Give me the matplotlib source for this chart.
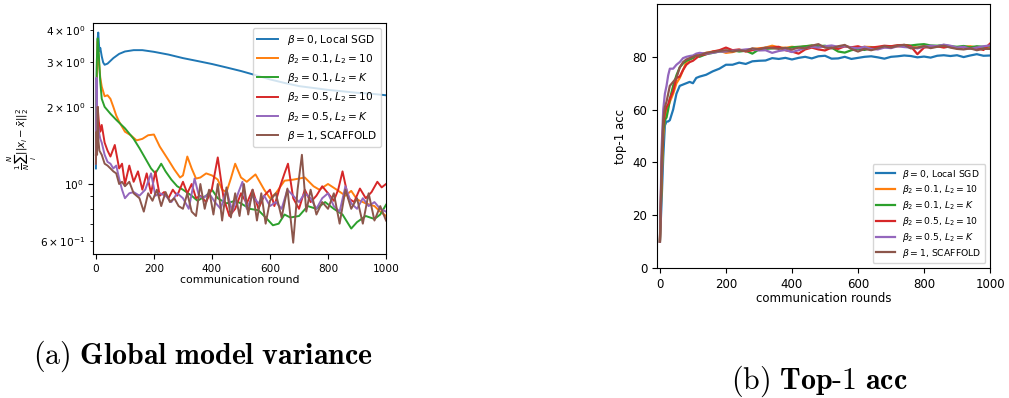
import matplotlib
matplotlib.use("Agg")
import matplotlib.pyplot as plt

labels = [
    r"$\beta = 0$, Local SGD",
    r"$\beta_2 = 0.1$, $L_2 = 10$",
    r"$\beta_2 = 0.1$, $L_2 = K$",
    r"$\beta_2 = 0.5$, $L_2 = 10$",
    r"$\beta_2 = 0.5$, $L_2 = K$",
    r"$\beta = 1$, SCAFFOLD",
]

# ---- (a) global model variance, one x list per run ----
var_x_local = [0, 3, 6, 8, 12, 15, 20, 25, 30, 40, 60, 80, 100, 130, 160, 200,
               250, 300, 350, 400, 450, 500, 550, 600, 650, 700, 750, 800, 850,
               900, 950, 1000]
var_local = [1.15, 2.8, 3.7, 3.9, 3.3, 3.4, 3.15, 2.98, 2.92, 2.95, 3.1, 3.22,
             3.29, 3.33, 3.33, 3.28, 3.2, 3.1, 3.02, 2.94, 2.85, 2.76, 2.66,
             2.56, 2.48, 2.41, 2.37, 2.33, 2.3, 2.27, 2.25, 2.22]

var_x_b01_10 = [0, 3, 6, 10, 15, 20, 30, 40, 50, 60,
                70, 80, 100, 120, 140, 160, 180, 200, 220, 250,
                270, 290, 300, 315, 330, 345, 360, 380, 400, 420,
                435, 450, 465, 480, 500, 520, 550, 580, 600, 620,
                650, 680, 700, 720, 750, 770, 800, 830, 860, 880,
                900, 930, 960, 980, 1000]
var_b01_10 = [1.3, 2.6, 3.6, 3.0, 2.6, 2.4, 2.2, 2.22, 2.15, 2.0,
              1.85, 1.75, 1.6, 1.55, 1.48, 1.5, 1.55, 1.56, 1.4, 1.24,
              1.14, 1.06, 1.08, 1.28, 1.15, 1.05, 1.06, 1.1, 1.08, 1.04,
              0.95, 0.93, 1.05, 1.2, 1.06, 1.02, 1.09, 0.95, 0.88, 0.92,
              1.03, 1.04, 1.05, 1.06, 0.98, 0.95, 1.0, 0.95, 0.9, 0.94,
              0.87, 0.84, 0.82, 0.78, 0.75]

var_x_b01_K = [0, 3, 6, 10, 15, 20, 30, 50, 70, 100,
               130, 150, 170, 190, 205, 225, 240, 260, 280, 300,
               330, 350, 380, 400, 420, 450, 480, 500, 530, 560,
               590, 610, 630, 650, 670, 700, 730, 760, 790, 820,
               850, 880, 900, 930, 960, 980, 1000]
var_b01_K = [1.3, 3.0, 3.7, 3.2, 2.5, 2.15, 2.0, 1.88, 1.78, 1.65,
             1.5, 1.38, 1.26, 1.15, 1.1, 1.2, 1.12, 1.04, 0.98, 0.95,
             0.9, 0.86, 0.9, 0.95, 0.88, 0.84, 0.86, 0.84, 0.8, 0.79,
             0.73, 0.69, 0.7, 0.76, 0.74, 0.75, 0.82, 0.8, 0.85, 0.8,
             0.76, 0.67, 0.71, 0.75, 0.73, 0.76, 0.83]

var_x_b05_10 = [0, 3, 6, 10, 15, 20, 30, 40, 50, 65,
                80, 90, 100, 115, 130, 145, 160, 175, 190, 205,
                220, 235, 250, 265, 280, 300, 315, 330, 345, 360,
                380, 400, 420, 440, 460, 480, 500, 520, 540, 560,
                580, 600, 615, 635, 650, 662, 680, 700, 720, 740,
                760, 780, 800, 820, 835, 850, 870, 890, 910, 930,
                950, 970, 985, 1000]
var_b05_10 = [1.3, 1.8, 2.0, 1.75, 1.6, 1.7, 1.45, 1.35, 1.28, 1.42,
              1.15, 1.2, 1.0, 1.18, 1.02, 1.12, 0.95, 1.1, 0.92, 1.12,
              0.9, 0.93, 0.88, 0.95, 0.9, 1.02, 0.92, 1.0, 0.88, 0.9,
              0.85, 0.96, 1.27, 0.88, 0.75, 0.8, 0.92, 0.84, 0.95, 0.8,
              0.9, 0.95, 0.82, 0.98, 1.1, 1.2, 0.88, 0.8, 0.95, 0.85,
              0.9, 0.98, 0.92, 0.86, 0.95, 1.12, 0.88, 0.85, 0.96, 0.88,
              0.93, 1.02, 0.97, 1.0]

var_x_b05_K = [0, 2, 4, 7, 10, 15, 20, 30, 40, 50,
               60, 70, 80, 90, 100, 115, 130, 150, 170, 190,
               205, 220, 240, 260, 280, 300, 320, 340, 355, 370,
               390, 410, 430, 450, 470, 490, 505, 520, 540, 560,
               580, 600, 620, 640, 660, 680, 700, 720, 740, 760,
               780, 800, 820, 840, 860, 880, 900, 920, 940, 960,
               980, 1000]
var_b05_K = [1.2, 2.6, 2.0, 1.7, 1.6, 1.5, 1.45, 1.3, 1.22, 1.2,
             1.15, 1.18, 1.05, 0.95, 0.88, 0.92, 0.93, 0.9, 0.95, 1.1,
             0.9, 0.92, 0.9, 0.85, 0.92, 0.88, 0.8, 1.05, 0.9, 0.88,
             0.92, 0.85, 0.8, 0.95, 0.78, 0.92, 1.02, 0.8, 0.9, 0.84,
             0.9, 0.82, 0.85, 0.8, 0.95, 0.9, 0.85, 0.92, 0.88, 0.8,
             0.88, 0.92, 0.82, 0.78, 0.98, 0.84, 0.8, 0.88, 0.82, 0.85,
             0.8, 0.78]

var_x_scaffold = [0, 2, 4, 6, 8, 12, 20, 30, 40, 50,
                  60, 70, 80, 90, 100, 115, 130, 150, 165, 180,
                  195, 210, 225, 240, 255, 270, 285, 300, 315, 330,
                  345, 360, 375, 390, 405, 420, 435, 450, 465, 480,
                  495, 510, 525, 540, 555, 570, 585, 600, 620, 640,
                  660, 680, 695, 710, 725, 740, 760, 780, 800, 820,
                  840, 860, 880, 900, 920, 940, 960, 980, 1000]
var_scaffold = [1.2, 1.6, 1.3, 2.0, 1.5, 1.35, 1.3, 1.2, 1.18, 1.15,
                1.12, 1.1, 1.0, 1.02, 0.98, 1.02, 0.92, 0.88, 0.78, 0.92,
                0.86, 0.95, 0.82, 0.93, 0.85, 0.88, 0.82, 0.8, 0.92, 0.78,
                0.75, 1.0, 0.8, 0.95, 0.76, 1.0, 0.72, 0.97, 0.74, 0.92,
                0.75, 1.0, 0.76, 0.95, 0.72, 0.92, 0.7, 0.86, 0.92, 0.74,
                0.96, 0.59, 0.95, 1.3, 0.78, 0.95, 0.76, 0.85, 0.8, 0.92,
                0.7, 0.95, 0.8, 0.88, 0.7, 0.92, 0.72, 0.82, 0.72]

# ---- (b) top-1 accuracy, shared rounds ----
acc_rounds = [0, 5, 10, 15, 20, 25, 30, 40, 50, 60,
              70, 80, 90, 100, 110, 120, 140, 160, 180, 200,
              220, 240, 260, 280, 300, 320, 340, 360, 380, 400,
              420, 440, 460, 480, 500, 520, 540, 560, 580, 600,
              620, 640, 660, 680, 700, 720, 740, 760, 780, 800,
              820, 840, 860, 880, 900, 920, 940, 960, 980, 1000]
acc_local = [10, 25, 42, 54, 55.5, 55.5, 56, 60, 66, 69,
             69.5, 70, 70.5, 70, 72, 72.5, 73.2, 74.5, 75.5, 77,
             77, 77.8, 77.3, 78.3, 78.5, 78.6, 79.5, 79.2, 79.6, 79,
             79.6, 80, 79.4, 80.2, 80.4, 79.3, 79.4, 80, 79.2, 79.6,
             80, 80.2, 79.8, 79.3, 80, 80.2, 80.5, 80.3, 79.8, 80.1,
             79.7, 80.4, 80.6, 80.3, 80.6, 79.9, 80.5, 81, 80.4, 80.5]
acc_b01_10 = [10, 32, 50, 57, 59, 61, 63, 66, 70, 72,
              75, 78, 79, 80, 80.5, 81, 81.5, 82, 82.3, 81.5,
              81.8, 82.5, 82.2, 83, 83.2, 83.5, 84.2, 83.6, 83.4, 83.8,
              83.5, 84, 84.2, 83.6, 84, 83.8, 83.6, 84, 83.5, 83.3,
              83.8, 83.7, 83.2, 83.6, 84, 83.9, 84.3, 83.8, 83.5, 84.1,
              83.6, 83.9, 84.2, 83.7, 83.4, 83.8, 84, 83.5, 83.2, 83.6]
acc_b01_K = [10, 35, 52, 56, 57, 60, 64, 69, 73, 76,
             77.5, 78.5, 79, 79.5, 80.5, 80, 81, 81.5, 82, 82.2,
             82.5, 82, 82.3, 81.2, 82.8, 83, 83.2, 83.5, 83, 83.6,
             83.8, 84, 84.3, 84, 84.2, 83.5, 82, 81.6, 82.5, 83,
             82.6, 83.5, 83.2, 83.8, 84, 84.2, 84.5, 84.3, 84.6, 84.8,
             84.3, 84.2, 84.5, 84, 83.8, 84.1, 83.6, 84, 83.8, 84]
acc_b05_10 = [10, 38, 54, 59, 61, 62, 64, 67, 72, 72.5,
              75, 77, 78, 78.5, 79.5, 80.5, 81, 82, 82.5, 83.5,
              82.5, 82.8, 82, 82.5, 83, 83.3, 83.5, 83.8, 82.5, 82,
              81.2, 82.8, 83.5, 82.8, 82.4, 83.5, 83, 84, 83.6, 84,
              83.2, 83.5, 83.8, 84.2, 84, 84.4, 84.5, 84, 81, 83.5,
              83.8, 84, 83.5, 84, 83.2, 83.6, 83, 83.5, 82.6, 85]
acc_b05_K = [10, 45, 60, 66, 69, 73, 75.5, 75.5, 77, 78,
             79.5, 80, 80.3, 80.5, 81.2, 81.5, 81.2, 81.5, 82, 82,
             82.3, 82.5, 82.8, 83, 82.4, 82.5, 81.5, 82.2, 82.6, 81.8,
             82.5, 83.3, 83.8, 83.5, 84, 84.3, 83.8, 84, 83.5, 83.2,
             83.8, 83, 82.8, 83.5, 83.3, 84, 83.7, 83.5, 83.2, 83.8,
             84.2, 84, 84.6, 84.2, 83.5, 83.8, 83, 83.5, 84, 84.3]
acc_scaffold = [10, 40, 56, 61, 63, 66, 69, 70.5, 72, 76,
                78, 79, 79.5, 80, 80.5, 80.5, 81.5, 81.8, 82.2, 82.5,
                82, 82.5, 82.2, 83.2, 82.8, 83.5, 83.3, 83, 83.4, 82.8,
                83.5, 83.2, 84.2, 84.8, 83.5, 83.2, 84, 84.5, 83, 82,
                83, 82.5, 83.2, 84, 83.5, 84.2, 84.5, 83.2, 83.5, 84,
                83.3, 83.8, 84.2, 83.5, 83, 82.8, 83.2, 82.5, 83, 83]

var_runs = [
    (var_x_local, var_local),
    (var_x_b01_10, var_b01_10),
    (var_x_b01_K, var_b01_K),
    (var_x_b05_10, var_b05_10),
    (var_x_b05_K, var_b05_K),
    (var_x_scaffold, var_scaffold),
]
acc_runs = [acc_local, acc_b01_10, acc_b01_K, acc_b05_10, acc_b05_K, acc_scaffold]

fig = plt.figure(figsize=(10.09, 3.98), dpi=100)

ax1 = fig.add_axes([0.0922, 0.3618, 0.2904, 0.5804])
for (xs, ys), lab in zip(var_runs, labels):
    ax1.plot(xs, ys, lw=1.4, label=lab)
ax1.set_yscale("log")
ax1.set_xlim(-10, 1000)
ax1.set_ylim(0.533, 4.25)
ax1.set_xlabel("communication round", fontsize=7.8, labelpad=1)
ax1.set_ylabel(r"$\frac{1}{N}\sum_i^N||x_i - \bar{x}||_2^2$", fontsize=7.3,
               labelpad=1)
ax1.tick_params(labelsize=7.6, which="both")
ax1.legend(loc="upper right", fontsize=7.6)

ax2 = fig.add_axes([0.6511, 0.3266, 0.3301, 0.6633])
for ys, lab in zip(acc_runs, labels):
    ax2.plot(acc_rounds, ys, lw=1.6, label=lab)
ax2.set_xlim(-9, 1000)
ax2.set_ylim(0, 100)
ax2.set_yticks([0, 20, 40, 60, 80])
ax2.set_xlabel("communication rounds", fontsize=8.5, labelpad=1)
ax2.set_ylabel("top-1 acc", fontsize=8.5)
ax2.tick_params(labelsize=8.5)
ax2.legend(loc="lower right", fontsize=6.7, labelspacing=0.3)

fig.text(0.033, 0.105, r"$\mathrm{(a)}\ \mathbf{Global\ model\ variance}$",
         math_fontfamily="cm", fontsize=21.5, va="center")
fig.text(0.724, 0.043, r"$\mathrm{(b)}\ \mathbf{Top\text{-}1\ acc}$",
         math_fontfamily="cm", fontsize=21.5, va="center")

fig.savefig("out.png", dpi=100)
